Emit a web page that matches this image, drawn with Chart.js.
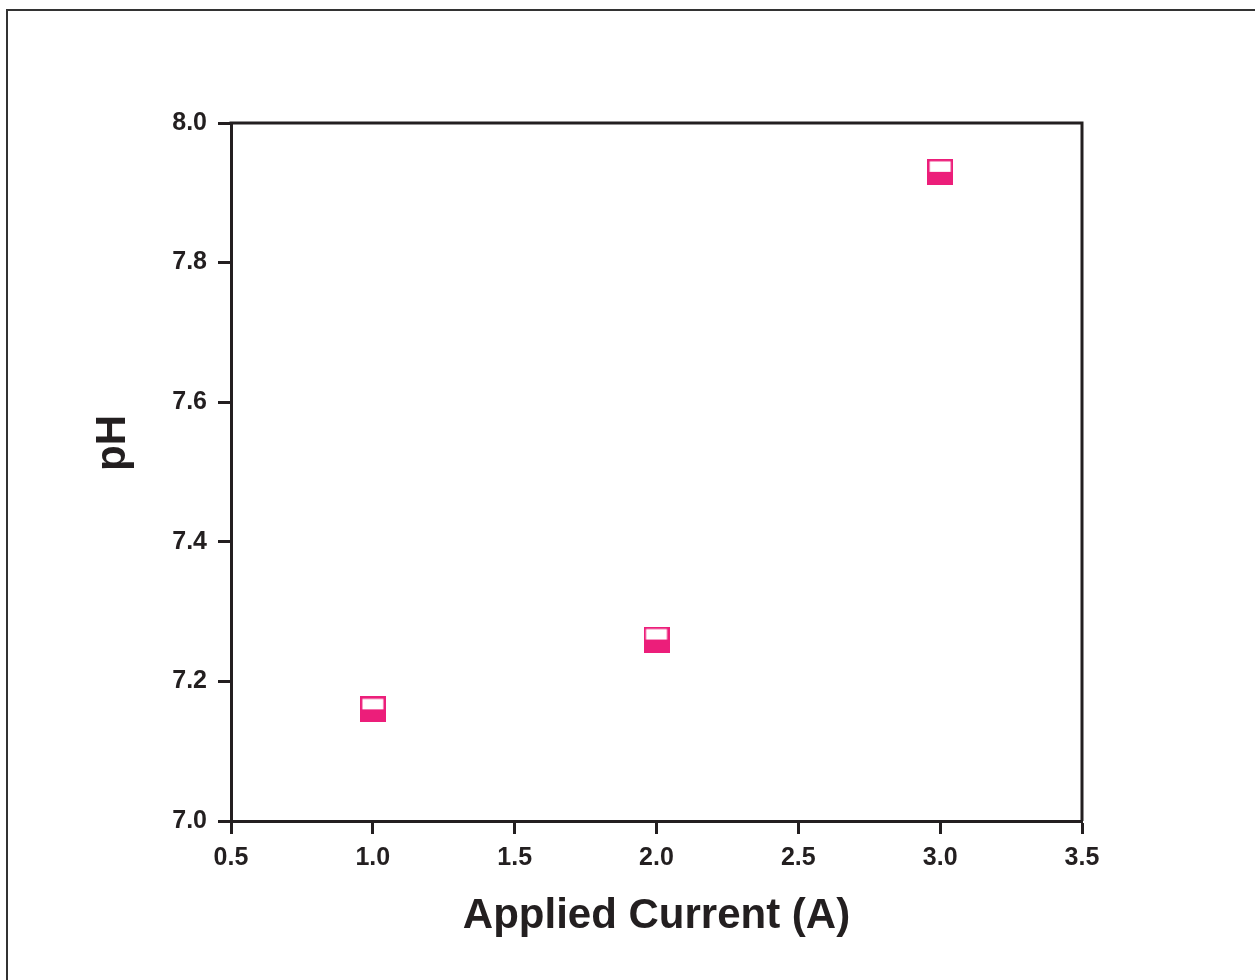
<!DOCTYPE html>
<html>
<head>
<meta charset="utf-8">
<script src="https://cdn.jsdelivr.net/npm/chart.js@4/dist/chart.umd.min.js"></script>
<style>
  body { margin: 0; background: #fff; }
  canvas { display: block; }
</style>
</head>
<body>
<canvas id="myChart" width="1255" height="980"></canvas>
<script>
// data
const currents = [1.0, 2.0, 3.0];
const phValues = [7.16, 7.26, 7.93];
const xTicks = [0.5, 1.0, 1.5, 2.0, 2.5, 3.0, 3.5];
const yTicks = [7.0, 7.2, 7.4, 7.6, 7.8, 8.0];

const ink = "#231f20";
const pink = "#ec1e7a";
const fontFamily = "'Liberation Sans', Arial, Helvetica, sans-serif";

// half filled square marker
function makeMarker() {
  const c = document.createElement("canvas");
  c.width = 26;
  c.height = 26;
  const g = c.getContext("2d");
  g.fillStyle = pink;
  g.fillRect(0, 0, 26, 26);
  g.fillStyle = "#fff";
  g.fillRect(2.5, 2.5, 21, 10.5);
  return c;
}

// frame, top/right axis lines and the two axis titles
const extras = {
  id: "extras",
  afterDraw(chart) {
    const ctx = chart.ctx;
    const a = chart.chartArea;
    ctx.save();
    ctx.strokeStyle = "#333";
    ctx.lineWidth = 2;
    ctx.strokeRect(7, 10, 1270, 990);

    ctx.strokeStyle = ink;
    ctx.lineWidth = 3;
    ctx.beginPath();
    ctx.moveTo(a.left - 1.5, a.top);
    ctx.lineTo(a.right, a.top);
    ctx.lineTo(a.right, a.bottom);
    ctx.stroke();

    ctx.fillStyle = ink;
    ctx.font = "bold 42px " + fontFamily;
    ctx.textAlign = "center";
    ctx.textBaseline = "alphabetic";
    ctx.fillText("Applied Current (A)", (a.left + a.right) / 2, 928);

    ctx.translate(125, 443);
    ctx.rotate(-Math.PI / 2);
    ctx.fillText("pH", 0, 0);
    ctx.restore();
  }
};

const ctx = document.getElementById("myChart").getContext("2d");
new Chart(ctx, {
  type: "scatter",
  data: {
    datasets: [
      {
        label: "pH",
        data: currents.map((x, i) => ({ x: x, y: phValues[i] })),
        pointStyle: makeMarker(),
        pointRadius: 13,
        pointHoverRadius: 13,
      },
    ],
  },
  options: {
    responsive: false,
    animation: false,
    events: [],
    layout: { padding: { top: 123, right: 173, left: 0, bottom: 0 } },
    plugins: { legend: { display: false }, tooltip: { enabled: false } },
    scales: {
      x: {
        type: "linear",
        min: 0.5,
        max: 3.5,
        afterFit: (scale) => { scale.height = 159; },
        afterBuildTicks: (scale) => { scale.ticks = xTicks.map((v) => ({ value: v })); },
        border: { display: true, color: ink, width: 3 },
        grid: { drawOnChartArea: false, drawTicks: true, tickLength: 13, tickColor: ink, tickWidth: 3 },
        ticks: {
          color: ink,
          padding: 9,
          maxRotation: 0,
          font: { family: fontFamily, size: 25, weight: "bold" },
          callback: (v) => Number(v).toFixed(1),
        },
      },
      y: {
        type: "linear",
        min: 7.0,
        max: 8.0,
        afterFit: (scale) => { scale.width = 231; },
        afterBuildTicks: (scale) => { scale.ticks = yTicks.map((v) => ({ value: v })); },
        border: { display: true, color: ink, width: 3 },
        grid: { drawOnChartArea: false, drawTicks: true, tickLength: 13, tickColor: ink, tickWidth: 3 },
        ticks: {
          color: ink,
          padding: 11,
          font: { family: fontFamily, size: 25, weight: "bold" },
          callback: (v) => Number(v).toFixed(1),
        },
      },
    },
  },
  plugins: [extras],
});
</script>
</body>
</html>
